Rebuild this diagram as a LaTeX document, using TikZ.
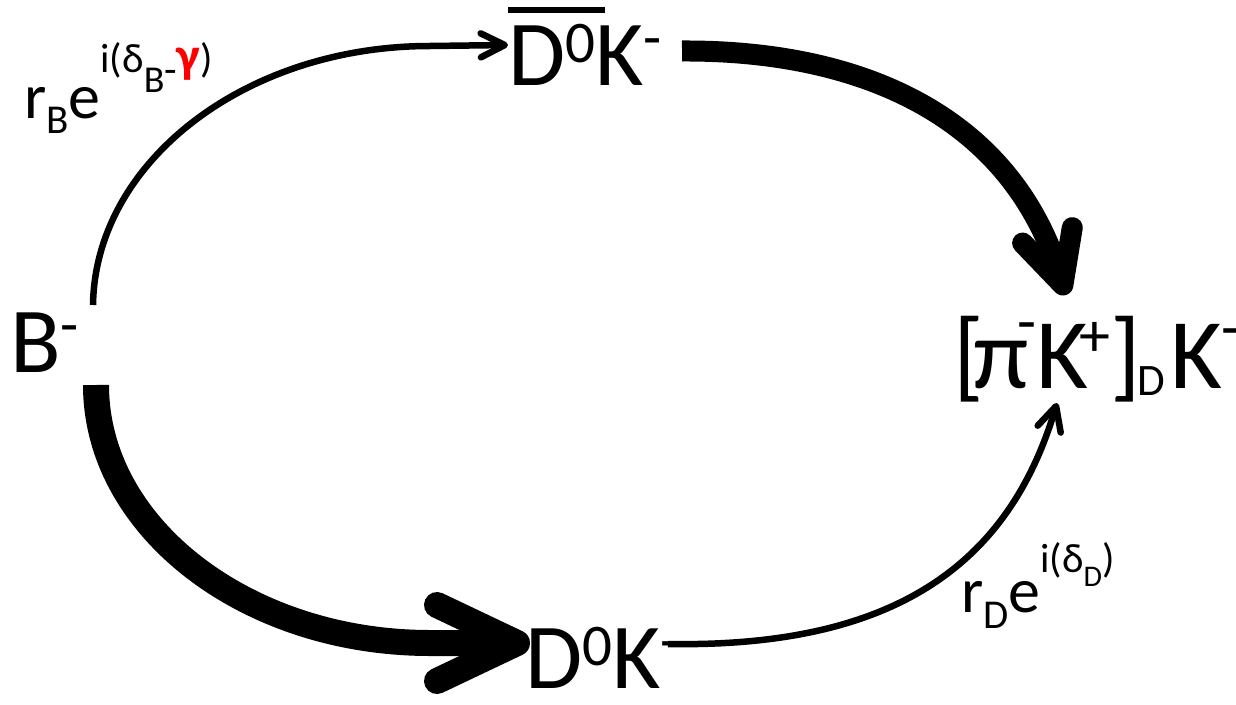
\documentclass[tikz,border=0pt]{standalone}
\usepackage{fontspec}
\setmainfont{Carlito}
\usetikzlibrary{arrows.meta,calc}
\newcommand\mainf{\fontsize{93}{100}\selectfont}
\newcommand\finf{\fontsize{100}{110}\selectfont}
\newcommand\labf{\fontsize{64}{70}\selectfont}
\newcommand\upx[3]{\raisebox{#1pt}{\fontsize{#2}{#2}\selectfont #3}}
\newcommand\bx[2]{\makebox[#1pt][l]{#2}}
\begin{document}
\begin{tikzpicture}[x=1pt,y=-1pt,
  txt/.style={inner sep=0pt, outer sep=0pt, anchor=base west},
  thinarrow/.style={line width=6.5pt, -{Straight Barb[length=24pt,width=24pt,round]}},
  thickarrow/.style={line width=21pt, -{Straight Barb[length=52pt,width=52pt,round]}},
  thickerarrow/.style={line width=26pt, -{Straight Barb[length=80pt,width=76pt,round]}}]
\useasboundingbox (0,0) rectangle (1236,704);
% states
\node[txt] (B) at (10,372) {\mainf B\upx{28}{59}{-}};
\node[txt] (Dbar) at (508,85) {\mainf\rlap{\rule[72pt]{97pt}{6pt}}D\upx{23}{59}{0}K\upx{28}{59}{-}};
\node[txt] (D) at (525,688) {\mainf D\upx{23}{59}{0}K\upx{28}{59}{-}};
\node[txt] (F) at (953,388) {\finf \bx{20}{[}\bx{44}{π}\bx{19}{\upx{46}{62}{-}}\bx{43}{K}\bx{31}{\upx{32}{62}{+}}\bx{27}{]}\bx{33}{\upx{-7}{45}{D}}K\upx{40}{62}{-}};
% amplitude labels
\node[txt] (lB) at (24,118) {\labf r\upx{-15}{41}{B}e\upx{46}{41}{i(δ\upx{-20}{38}{B}\upx{-11}{41}{-}\textcolor{red}{\fontsize{50}{50}\selectfont\bfseries γ})}};
\node[txt] (lD) at (961,612) {\labf r\upx{-16}{41}{D}e\upx{40}{41}{i(δ\upx{-14}{30}{D})}};
% connectors
\draw[thinarrow] ([shift={(83,-67)}]B.base west)
  .. controls (95,163) and (244,46) .. (430,46) -- ([shift={(0,-40)}]Dbar.base west);
\draw[thickarrow] ([shift={(174,-34)}]Dbar.base west)
  .. controls (860,50) and (1010,115) .. ([shift={(113,-93)}]F.base west);
\draw[thickerarrow] ([shift={(86,13)}]B.base west)
  .. controls (96,527) and (246,643) .. (430,643) -- ([shift={(5,-45)}]D.base west);
\draw[thinarrow] ([shift={(143,-44)}]D.base west)
  .. controls (900,648) and (1010,560) .. ([shift={(104,15)}]F.base west);
\end{tikzpicture}
\end{document}
